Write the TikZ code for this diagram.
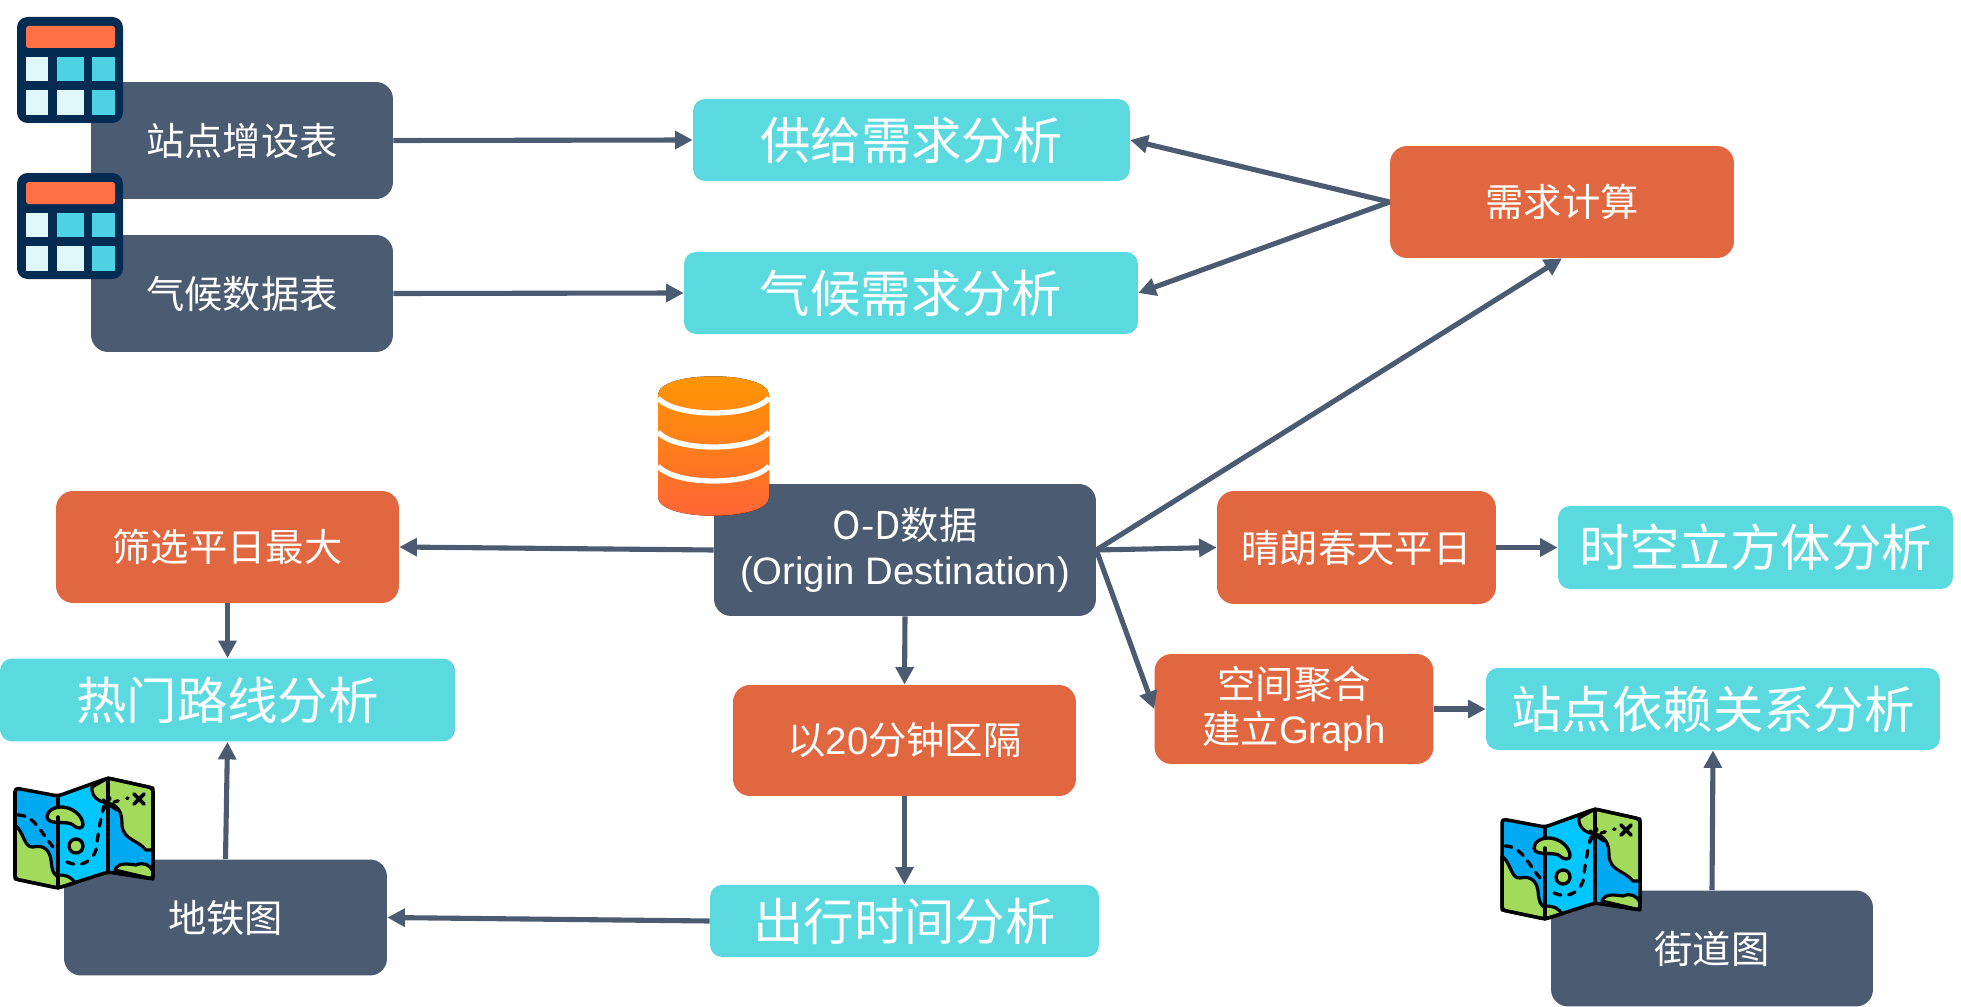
\documentclass[tikz,border=0pt]{standalone}
\usepackage{fontspec}
\setmainfont{Liberation Sans}
\newfontfamily\cjk{Noto Sans CJK SC}
\usetikzlibrary{arrows.meta}
\definecolor{slate}{HTML}{4B5B71}
\definecolor{brick}{HTML}{E16741}
\definecolor{aqua}{HTML}{5AD9DF}
\definecolor{navy}{HTML}{042B52}
\definecolor{cellpale}{HTML}{E0F7F9}
\definecolor{cellblue}{HTML}{4DD2E4}
\definecolor{barorange}{HTML}{FF7043}
\definecolor{drumtop}{HTML}{FF9800}
\definecolor{drumbottom}{HTML}{FF6337}
\definecolor{mapgreen}{HTML}{A2DB5B}
\definecolor{mapblue}{HTML}{00AAF2}
\definecolor{mapsky}{HTML}{00C6FF}
\tikzstyle{srcbox} = [fill=slate,rounded corners=0.34cm,inner sep=0pt,text=white,align=center,font={\fontsize{21.8}{25.5}\selectfont\cjk}]
\tikzstyle{stepbox} = [fill=brick,rounded corners=0.34cm,inner sep=0pt,text=white,align=center,font={\fontsize{21.8}{25.5}\selectfont\cjk}]
\tikzstyle{resbox} = [fill=aqua,rounded corners=0.24cm,inner sep=0pt,text=white,align=center,font={\fontsize{28.7}{32}\selectfont\cjk}]
\tikzstyle{link} = [draw=slate,line width=2.9pt,-{Triangle[length=10pt,width=10pt]}]
\tikzstyle{shortlink} = [draw=slate,line width=3.4pt,-{Triangle[length=10pt,width=10pt]}]
\tikzset{
  tableicon/.pic={
    \fill[navy,rounded corners=6pt] (17,17) rectangle (123,123);
    \fill[barorange,rounded corners=1.5pt] (26,26) rectangle (115,48);
    \fill[cellpale] (26,57) rectangle (48,81);
    \fill[cellblue] (57,57) rectangle (84,81);
    \fill[cellblue] (92,57) rectangle (115,81);
    \fill[cellpale] (26,90) rectangle (48,115);
    \fill[cellpale] (57,90) rectangle (84,115);
    \fill[cellblue] (92,90) rectangle (115,115);
  },
  mapicon/.pic={
    \fill[mapblue] (15,28) -- (58,36) -- (58,128) -- (15,119) -- cycle;
    \fill[mapsky] (58,36) -- (108,18) -- (108,112) -- (58,128) -- cycle;
    \fill[mapblue] (108,18) -- (153,28) -- (153,119) -- (108,112) -- cycle;
    % green land
    \draw[fill=mapgreen,line width=1.8pt,line join=round] (15,65) .. controls (24,72) and (24,88) .. (33,87) .. controls (45,84) and (50,92) .. (51,100) .. controls (52,112) and (54,114) .. (58,117) -- (58,128) -- (15,119) -- cycle;
    \draw[fill=mapgreen,line width=1.8pt,line join=round] (58,115) .. controls (68,115) and (72,118) .. (75,123) -- (58,128) -- cycle;
    \draw[fill=mapgreen,line width=1.8pt,line join=round] (92,27) .. controls (91,36) and (98,42) .. (108,43) -- (108,18) -- cycle;
    \draw[fill=mapgreen,line width=1.8pt,line join=round] (108,43) .. controls (122,46) and (122,58) .. (122,66) .. controls (124,80) and (138,80) .. (146,90) -- (153,90) -- (153,28) -- (108,18) -- cycle;
    \draw[fill=mapgreen,line width=1.8pt,line join=round] (115,110) .. controls (118,102) and (128,104) .. (136,105) .. controls (143,102) and (150,104) .. (153,112) -- (153,119) -- cycle;
    % outline
    \draw[line width=2pt] (58,36) -- (58,128) (108,18) -- (108,112);
    \draw[line width=2pt,line join=round,rounded corners=2pt] (15,28) -- (58,36) -- (108,18) -- (153,28) -- (153,119) -- (108,112) -- (58,128) -- (15,119) -- cycle;
    % island and lake
    \draw[fill=mapgreen,line width=1.9pt] (47,57) .. controls (48,44) and (72,43) .. (81,58) .. controls (87,69) and (78,70) .. (73,65) .. controls (68,60) and (48,66) .. (47,57) -- cycle;
    \draw[line width=2pt,line cap=round] (58,57) -- (58,80);
    \draw[fill=mapgreen,line width=1.9pt] (76,86) circle [radius=0.14cm];
    % trail
    \draw[line width=1.9pt,dash pattern=on 4pt off 4pt,line cap=round] (18,55) .. controls (35,55) and (42,75) .. (54,88);
    \draw[line width=1.9pt,dash pattern=on 4pt off 4.5pt,line cap=round] (67,102) .. controls (80,108) and (92,102) .. (96,90) .. controls (98,75) and (100,60) .. (104,46);
    \draw[line width=1.9pt,dash pattern=on 2.5pt off 5pt,line cap=round] (114,42) -- (128,38);
    \draw[line width=2.2pt,line cap=round] (134,34) -- (144,44) (144,34) -- (134,44);
    \draw[line width=2pt,line cap=round] (103,50) -- (110,38) (103,40) -- (117,50);
  },
}

\begin{document}
\begin{tikzpicture}[x=0.02cm,y=-0.02cm]

    \useasboundingbox (0,0) rectangle (1961,1007);

    % Source tables and data
    \node[srcbox,minimum width=6.04cm,minimum height=2.34cm] (zhandian) at (242,140.5) {站点增设表};
    \node[srcbox,minimum width=6.04cm,minimum height=2.34cm] (qihou) at (242,293.5) {气候数据表};
    \node[srcbox,minimum width=7.64cm,minimum height=2.64cm] (od) at (905,550) {O-D数据\\{\rmfamily (Origin Destination)}};
    \node[srcbox,minimum width=6.46cm,minimum height=2.32cm] (ditie) at (225.5,917.5) {地铁图};
    \node[srcbox,minimum width=6.44cm,minimum height=2.32cm] (jiedao) at (1712,948.5) {街道图};

    % Processing steps
    \node[stepbox,minimum width=6.88cm,minimum height=2.24cm] (xuqiu) at (1562,202) {需求计算};
    \node[stepbox,minimum width=6.86cm,minimum height=2.24cm] (shaixuan) at (227.5,547) {筛选平日最大};
    \node[stepbox,minimum width=6.86cm,minimum height=2.22cm] (qujian) at (904.5,740.5) {以{\rmfamily 20}分钟区隔};
    \node[stepbox,minimum width=5.58cm,minimum height=2.26cm] (qinglang) at (1356.5,547.5) {晴朗春天平日};
    \node[stepbox,minimum width=5.58cm,minimum height=2.2cm] (kongjian) at (1294,709) {空间聚合\\建立{\rmfamily Graph}};

    % Analysis results
    \node[resbox,minimum width=8.74cm,minimum height=1.64cm] (gongji) at (911.5,140) {供给需求分析};
    \node[resbox,minimum width=9.08cm,minimum height=1.64cm] (qihouxq) at (911,293) {气候需求分析};
    \node[resbox,minimum width=9.1cm,minimum height=1.66cm] (remen) at (227.5,700) {热门路线分析};
    \node[resbox,minimum width=7.78cm,minimum height=1.44cm] (chuxing) at (904.5,921) {出行时间分析};
    \node[resbox,minimum width=7.9cm,minimum height=1.66cm] (shikong) at (1755.5,547.5) {时空立方体分析};
    \node[resbox,minimum width=9.08cm,minimum height=1.64cm] (yilai) at (1713,709) {站点依赖关系分析};

    % Connectors
    \draw[link] (zhandian.east) -- (gongji.west);
    \draw[link] (qihou.east) -- (qihouxq.west);
    \draw[link] (xuqiu.west) -- (gongji.east);
    \draw[link] (xuqiu.west) -- (qihouxq.east);
    \draw[link] (od.east) -- (xuqiu.south);
    \draw[link] (od.east) -- (qinglang.west);
    \draw[link] (od.east) -- (kongjian.west);
    \draw[shortlink] (qinglang.east) -- (shikong.west);
    \draw[shortlink] (kongjian.east) -- (yilai.west);
    \draw[link] (od.west) -- (shaixuan.east);
    \draw[link] (shaixuan.south) -- (remen.north);
    \draw[link] (ditie.north) -- (remen.south);
    \draw[link] (od.south) -- (qujian.north);
    \draw[link] (qujian.south) -- (chuxing.north);
    \draw[link] (chuxing.west) -- (ditie.east);
    \draw[link] (jiedao.north) -- (yilai.south);

    % Icons
    \pic at (0,0) {tableicon};
    \pic at (0,156) {tableicon};
    \pic at (0,760) {mapicon};
    \pic at (1487,791) {mapicon};

    % Database
    \fill[top color=drumtop,bottom color=drumbottom] (658,395) .. controls (658,370) and (769,370) .. (769,395) -- (769,497) .. controls (769,522) and (658,522) .. (658,497) -- cycle;
    \draw[white,line width=3pt] (658,398) .. controls (675,418) and (752,418) .. (769,398);
    \draw[white,line width=3pt] (658,432) .. controls (675,452) and (752,452) .. (769,432);
    \draw[white,line width=3pt] (658,466) .. controls (675,486) and (752,486) .. (769,466);

\end{tikzpicture}
\end{document}
